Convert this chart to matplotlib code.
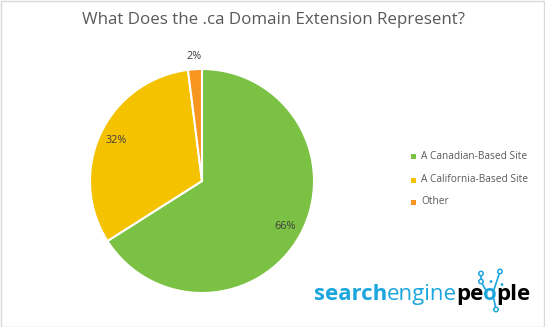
import numpy as np
import matplotlib
matplotlib.use("Agg")
import matplotlib.pyplot as plt
from matplotlib.patches import Rectangle, Circle

categories = ["A Canadian-Based Site", "A California-Based Site", "Other"]
values = [66, 32, 2]
pct_labels = ["66%", "32%", "2%"]
colors = ["#7BC143", "#F5C200", "#F7961F"]
title = "What Does the .ca Domain Extension Represent?"

W, H = 545, 327
fig = plt.figure(figsize=(W / 100, H / 100), dpi=100)
fig.patch.set_facecolor("white")
fig.patches.append(Rectangle((0.5 / W, 0.5 / H), 1 - 1.5 / W, 1 - 1.5 / H, transform=fig.transFigure,
                             fill=False, edgecolor="#D9D9D9", linewidth=1))

cx, cy, r = 202, 181, 112
ax = fig.add_axes([(cx - r) / W, (H - cy - r) / H, 2 * r / W, 2 * r / H])
wedges, _ = ax.pie(values, colors=colors, startangle=90, counterclock=False, radius=1,
                   wedgeprops=dict(edgecolor="white", linewidth=1.5))
ax.set_xlim(-1, 1)
ax.set_ylim(-1, 1)
ax.set_aspect("equal")
ax.axis("off")

for w, lab, v in zip(wedges, pct_labels, values):
    ang = np.deg2rad((w.theta1 + w.theta2) / 2)
    d = 0.85 if v > 5 else 1.11
    ax.text(d * np.cos(ang), d * np.sin(ang), lab, ha="center", va="center",
            fontsize=7.8, color="#404040", family="Open Sans")

fig.text(273 / W, 1 - 20 / H, title, ha="center", va="center", fontsize=12.2,
         color="#595959", family="Open Sans")

# legend
ys = [157, 180, 202]
for c, lab, y in zip(colors, categories, ys):
    fig.patches.append(Rectangle((411 / W, 1 - (y + 2.5) / H), 5 / W, 5 / H,
                                 transform=fig.transFigure, facecolor=c, edgecolor="none"))
    fig.text(421 / W, 1 - y / H, lab, ha="left", va="center", fontsize=7.3,
             color="#595959", family="Open Sans")

# logo
blue = "#1BA6DE"
fig.canvas.draw()
rend = fig.canvas.get_renderer()
x = 314.0
base = 1 - 300 / H
pieces = [("search", blue, "bold"), ("engine", blue, "normal"), ("pe", "black", "bold"),
          ("o", blue, "bold"), ("ple", "black", "bold")]
o_box = None
for txt, col, wt in pieces:
    t = fig.text(x / W, base, txt, fontsize=16, color=col, weight=wt,
                 family="Open Sans", ha="left", va="baseline")
    bb = t.get_window_extent(rend)
    if txt == "o":
        o_box = bb
    x = bb.x1 - 0.5

lax = fig.add_axes([0, 0, 1, 1], facecolor="none")
lax.set_xlim(0, W)
lax.set_ylim(H, 0)
lax.axis("off")
ox = (o_box.x0 + o_box.x1) / 2
oy = 294.5
# network links (offsets relative to the "o")
links = [((10, -23), (4, -5)), ((4, 5), (6, 15)), ((-9, -13), (-4, -4)), ((-9, -13), (-9, -21))]
for (a, b) in links:
    lax.plot([ox + a[0], ox + b[0]], [oy + a[1], oy + b[1]], color=blue, lw=1.2)
for (dx, dy) in [(-9, -21), (-9, -13), (10, -23), (6, 15)]:
    lax.add_patch(Circle((ox + dx, oy + dy), 2.2, facecolor="white", edgecolor=blue, lw=1.1, zorder=4))
for (dx, dy) in [(1, -13), (12, -10)]:
    lax.add_patch(Circle((ox + dx, oy + dy), 1.4, facecolor=blue, edgecolor="none", zorder=4))

fig.savefig("out.png", dpi=100, facecolor="white")
